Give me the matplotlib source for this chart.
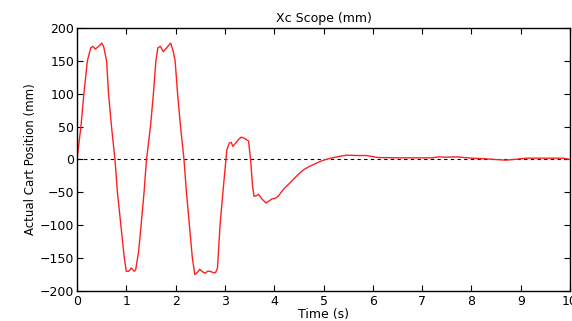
import matplotlib
matplotlib.use("Agg")
import matplotlib.pyplot as plt

time_s = [0.00, 0.08, 0.14, 0.21, 0.28, 0.32, 0.37, 0.44, 0.50, 0.54, 0.60, 0.64, 0.70, 0.77,
          0.82, 0.89, 0.96, 1.00, 1.05, 1.10, 1.16, 1.19, 1.25, 1.30, 1.36, 1.41, 1.49, 1.55,
          1.60, 1.64, 1.69, 1.75, 1.82, 1.90, 1.95, 1.99, 2.04, 2.10, 2.17, 2.22, 2.28, 2.34,
          2.39, 2.44, 2.49, 2.55, 2.60, 2.65, 2.70, 2.76, 2.81, 2.85, 2.90, 2.97, 3.04, 3.09,
          3.13, 3.16, 3.22, 3.27, 3.33, 3.40, 3.48, 3.52, 3.56, 3.59, 3.64, 3.68, 3.75, 3.83,
          3.90, 3.95, 4.02, 4.08, 4.19, 4.30, 4.39, 4.50, 4.59, 4.70, 4.79, 4.90, 5.00, 5.15,
          5.27, 5.47, 5.70, 5.88, 6.10, 6.50, 7.00, 7.20, 7.33, 7.50, 7.70, 8.00, 8.30, 8.48,
          8.70, 8.85, 9.12, 9.50, 9.70, 9.85, 10.00]
cart_mm = [0, 50, 100, 150, 170, 172, 168, 172, 177, 172, 150, 100, 50, 0,
           -50, -100, -150, -170, -170, -165, -170, -168, -140, -100, -50, 0, 50, 100,
           150, 170, 172, 164, 170, 177, 165, 150, 100, 50, 0, -50, -100, -150,
           -175, -172, -167, -171, -173, -170, -170, -172, -172, -165, -101, -41, 15, 25,
           26, 20, 25, 30, 34, 32, 28, 0, -40, -56, -55, -53, -60, -66,
           -63, -60, -59, -56, -45, -37, -30, -22, -16, -11, -8, -4, -1, 2,
           4, 6.6, 6, 6, 3, 2.5, 2.5, 2.5, 4, 3.5, 4, 2, 1, 0,
           -1, 0, 2, 2, 2, 2, 0]

xticks = list(range(0, 11))
yticks = list(range(-200, 201, 50))

plt.rcParams['font.family'] = ['DejaVu Sans']
fig = plt.figure(figsize=(5.72, 3.21), dpi=100)
ax = fig.add_axes([0.1346, 0.0935, 0.862, 0.8193])
ax.axhline(0, color='black', linestyle=(0, (3, 3)), linewidth=0.8)
ax.plot(time_s, cart_mm, color='#ff2020', linewidth=1.0)
ax.set_xlim(0, 10)
ax.set_ylim(-200, 200)
ax.set_xticks(xticks)
ax.set_yticks(yticks)
ax.tick_params(direction='in', length=4, top=True, right=True, labelsize=9, pad=2)
ax.tick_params(axis='x', pad=3)
for s in ax.spines.values():
    s.set_linewidth(1.0)
ax.set_title('Xc Scope (mm)', fontsize=9, pad=4)
ax.set_xlabel('Time (s)', fontsize=9, labelpad=0)
ax.set_ylabel('Actual Cart Position (mm)', fontsize=8.5, labelpad=2)
fig.savefig('out.png', dpi=100)
